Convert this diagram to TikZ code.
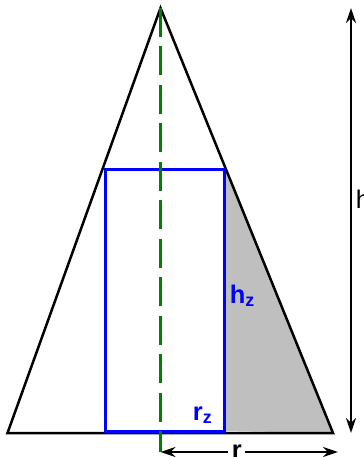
\documentclass[tikz,border=0pt]{standalone}
\usepackage{fontspec}
\setmainfont{Liberation Sans}
\setsansfont{Liberation Sans}
\usepackage{xcolor}
\usetikzlibrary{arrows.meta, positioning, calc}
\definecolor{axisgreen}{RGB}{0,128,0}

\begin{document}
\begin{tikzpicture}[
  x=0.02cm, y=-0.02cm,
  edge/.style={line width=0.05cm, black},
  cyl/.style={line width=0.06cm, blue},
  axis/.style={line width=0.06cm, axisgreen},
  dim/.style={line width=0.05cm, black, {Stealth[length=0.3cm, width=0.2cm]}-{Stealth[length=0.3cm, width=0.2cm]}},
  lbl/.style={font=\fontsize{14.5}{16}\selectfont, inner sep=2pt},
  blbl/.style={lbl, font=\fontsize{14.5}{16}\selectfont\bfseries},
  >=Stealth
]
  \useasboundingbox (0,0) rectangle (364,457);

  % Cone corners
  \coordinate (apex) at (160.5,8);
  \coordinate (bl) at (7.5,433);
  \coordinate (br) at (333,433);

  % Inscribed cylinder
  \coordinate (rtl) at (105.5,169.5);
  \coordinate (rtr) at (224.7,169.5);
  \coordinate (rbr) at (224.7,431);
  \coordinate (gtop) at ($(apex)!0.381!(br)$);

  % Shaded part
  \fill[black!25] (rtr) -- (gtop) -- (br) -- (rbr) -- cycle;

  % Cone
  \draw[edge, line join=miter] (bl) -- (apex) -- (br) -- cycle;

  % Cylinder
  \draw[cyl] (rtl) rectangle (rbr);

  % Axis
  \coordinate (base) at (160.5,433);
  \coordinate (axbot) at (160.5,452);
  \draw[axis, dash pattern=on 0.58cm off 0.19cm] (apex) -- (base);
  \draw[axis] (base) -- (axbot);

  % Dimensions
  \coordinate (rend) at (338,452);
  \coordinate (htop) at (351,8);
  \coordinate (hbot) at (351,433);
  \draw[dim] (axbot) -- node[pos=0.43, fill=white, blbl] (rlab) {r} (rend);
  \draw[dim] (htop) -- node[pos=0.45, right, lbl] (hlab) {h} (hbot);

  % Labels
  \node[blbl, anchor=base west, text=blue] (hz) at (226,303) {h\textsubscript{z}};
  \node[blbl, anchor=base west, text=blue] (rz) at (189,420) {r\textsubscript{z}};
\end{tikzpicture}
\end{document}
